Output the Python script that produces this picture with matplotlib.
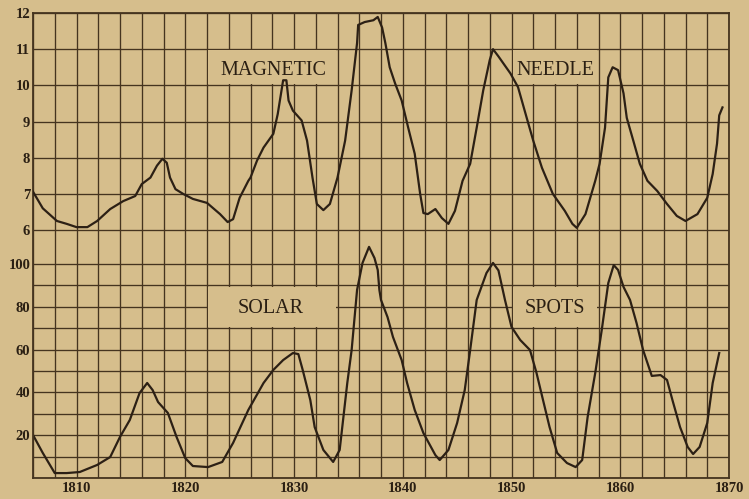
import matplotlib
matplotlib.use("Agg")
import matplotlib.pyplot as plt
from matplotlib.patches import Rectangle

# ---------------- data ----------------
mag_years = [1806.0, 1806.9, 1808.2, 1809.1, 1810.0, 1811.0, 1811.9, 1813.1, 1814.3, 1815.4,
             1816.0, 1816.8, 1817.4, 1817.9, 1818.3, 1818.6, 1819.1, 1819.8, 1820.7, 1822.0,
             1823.2, 1823.9, 1824.4, 1825.0, 1825.8, 1826.0, 1826.6, 1827.2, 1828.1, 1828.5,
             1828.9, 1829.0, 1829.3, 1829.5, 1829.9, 1830.7, 1831.2, 1831.7, 1832.1, 1832.7,
             1833.3, 1834.0, 1834.7, 1835.3, 1835.8, 1835.9, 1836.5, 1837.3, 1837.7, 1838.1,
             1838.4, 1838.8, 1839.3, 1839.9, 1840.5, 1841.1, 1841.6, 1841.9, 1842.3, 1843.0,
             1843.6, 1844.2, 1844.8, 1845.5, 1846.2, 1846.8, 1847.4, 1848.0, 1848.3, 1848.8,
             1849.9, 1850.6, 1851.4, 1852.0, 1852.8, 1853.8, 1854.9, 1855.6, 1856.0, 1856.8,
             1857.7, 1858.1, 1858.6, 1858.9, 1859.3, 1859.8, 1860.3, 1860.6, 1861.2, 1861.8,
             1862.5, 1863.4, 1864.3, 1865.2, 1866.0, 1867.1, 1868.0, 1868.5, 1868.9, 1869.1,
             1869.4]
mag_values = [7.06, 6.60, 6.25, 6.17, 6.08, 6.08, 6.25, 6.58, 6.80, 6.94,
              7.27, 7.45, 7.78, 7.97, 7.86, 7.45, 7.13, 7.00, 6.86, 6.75,
              6.44, 6.22, 6.30, 6.89, 7.36, 7.45, 7.92, 8.28, 8.66, 9.20,
              9.95, 10.14, 10.14, 9.58, 9.30, 9.03, 8.47, 7.45, 6.72, 6.55,
              6.72, 7.45, 8.47, 9.86, 11.17, 11.67, 11.75, 11.80, 11.89, 11.60,
              11.17, 10.50, 10.05, 9.58, 8.83, 8.11, 7.00, 6.47, 6.44, 6.58,
              6.33, 6.17, 6.53, 7.36, 7.83, 8.83, 9.86, 10.70, 11.00, 10.80,
              10.33, 9.95, 9.10, 8.47, 7.72, 7.00, 6.53, 6.17, 6.06, 6.44,
              7.36, 7.83, 8.83, 10.22, 10.50, 10.42, 9.78, 9.10, 8.47, 7.83,
              7.36, 7.08, 6.72, 6.39, 6.25, 6.44, 6.89, 7.55, 8.39, 9.17,
              9.39]

spot_years = [1806.0, 1806.9, 1808.0, 1809.1, 1810.3, 1811.9, 1813.1, 1814.0, 1814.9, 1815.8,
              1816.5, 1817.0, 1817.5, 1818.4, 1819.2, 1820.0, 1820.7, 1822.1, 1823.4, 1824.4,
              1825.8, 1827.2, 1828.1, 1829.0, 1829.9, 1830.4, 1830.8, 1831.5, 1831.9, 1832.7,
              1833.6, 1834.2, 1834.9, 1835.3, 1835.8, 1836.3, 1836.9, 1837.4, 1837.7, 1837.85,
              1838.0, 1838.6, 1839.1, 1839.9, 1840.4, 1841.1, 1841.9, 1843.0, 1843.4, 1844.2,
              1845.0, 1845.7, 1846.2, 1846.8, 1847.7, 1848.3, 1848.8, 1849.4, 1850.0, 1850.8,
              1851.7, 1852.3, 1852.9, 1853.5, 1854.2, 1855.1, 1855.9, 1856.5, 1857.0, 1857.7,
              1858.3, 1858.9, 1859.4, 1859.8, 1860.3, 1860.9, 1861.5, 1862.1, 1862.9, 1863.7,
              1864.3, 1864.8, 1865.5, 1866.2, 1866.7, 1867.3, 1868.0, 1868.5, 1869.1]
spot_values = [20.1, 11.7, 2.3, 2.3, 2.8, 6.1, 9.8, 19.2, 27.1, 39.7,
               44.4, 41.1, 35.5, 30.4, 19.2, 9.3, 5.6, 5.1, 7.5, 16.4,
               31.8, 44.4, 50.5, 55.1, 58.4, 57.9, 50.5, 36.4, 23.8, 13.1,
               7.5, 13.1, 44.4, 59.8, 87.9, 100.5, 108.0, 102.8, 97.2, 87.9,
               83.2, 75.2, 65.9, 55.1, 44.4, 31.8, 21.0, 10.7, 8.4, 13.1,
               25.7, 41.1, 59.8, 83.2, 95.8, 100.5, 97.0, 83.2, 70.6, 64.5,
               59.8, 49.1, 36.4, 23.8, 11.7, 7.0, 5.1, 8.4, 28.5, 49.1,
               69.2, 91.1, 99.5, 97.2, 89.3, 83.2, 72.4, 59.8, 47.7, 48.1,
               45.8, 36.4, 23.8, 14.5, 11.2, 14.5, 25.7, 44.4, 58.4]

x_labels = [1810, 1820, 1830, 1840, 1850, 1860, 1870]
mag_ticks = [6, 7, 8, 9, 10, 11, 12]
spot_ticks = [20, 40, 60, 80, 100]

# ---------------- style ----------------
BG = "#D6BE8C"
INK = "#45341f"
TXT = "#2a1f13"
CURVE = "#2c2015"
SERIF = ["Liberation Serif", "DejaVu Serif"]

fig = plt.figure(figsize=(7.49, 4.99), dpi=100)
fig.patch.set_facecolor(BG)
pos = [33 / 749, 21 / 499, 696 / 749, 465 / 499]

# lower axes: sunspots (0 at bottom, 100 at y=264px)
ax = fig.add_axes(pos)
ax.set_facecolor(BG)
ax.set_xlim(1806, 1870)
ax.set_ylim(0, 465 / 2.14)
ax.set_xticks(x_labels)
ax.set_xticks(list(range(1806, 1871, 2)), minor=True)
ax.set_xticklabels([str(v) for v in x_labels], fontfamily=SERIF, fontsize=10.5,
                   fontweight="bold", color=TXT)
ax.set_yticks(spot_ticks)
ax.set_yticks([0, 10, 30, 50, 70, 90], minor=True)
ax.set_yticklabels([str(v) for v in spot_ticks], fontfamily=SERIF, fontsize=10.5,
                   fontweight="bold", color=TXT)
ax.tick_params(which="both", length=0, pad=2)
ax.tick_params(axis="x", pad=3)
ax.set_axisbelow(True)
ax.grid(True, which="both", axis="x", color=INK, lw=0.95)
ax.grid(True, which="both", axis="y", color=INK, lw=0.95)
for s in ax.spines.values():
    s.set_color(INK)
    s.set_linewidth(1.3)

# SOLAR / SPOTS label boxes
for x0, x1, label, xc in [(1822.1, 1833.9, "SOLAR", 1827.9), (1850.1, 1857.9, "SPOTS", 1854.0)]:
    ax.add_patch(Rectangle((x0, 70.6), x1 - x0, 18.8, facecolor=BG, edgecolor="none", zorder=1))
    ax.text(xc, 79.0, label, ha="center", va="center", fontfamily=SERIF, fontsize=14.5,
            color=TXT, zorder=3)

ax.plot(spot_years, spot_values, color=CURVE, lw=1.6, solid_joinstyle="round", zorder=2)

# upper axes: magnetic needle (6 at y=230px, 12 at top)
ax2 = fig.add_axes(pos)
ax2.patch.set_visible(False)
ax2.set_xlim(1806, 1870)
ax2.set_ylim(12 - 465 / 36.17, 12)
ax2.set_xticks([])
ax2.set_yticks(mag_ticks)
ax2.set_yticklabels([str(v) for v in mag_ticks], fontfamily=SERIF, fontsize=10.5,
                    fontweight="bold", color=TXT)
ax2.tick_params(length=0, pad=2)
ax2.set_axisbelow(True)
ax2.grid(True, axis="y", color=INK, lw=0.95)
for s in ax2.spines.values():
    s.set_visible(False)

for x0, x1, label, xc in [(1822.1, 1833.9, "MAGNETIC", 1828.1), (1850.1, 1857.9, "NEEDLE", 1854.0)]:
    ax2.add_patch(Rectangle((x0, 10.03), x1 - x0, 0.94, facecolor=BG, edgecolor="none", zorder=1))
    ax2.text(xc, 10.42, label, ha="center", va="center", fontfamily=SERIF, fontsize=14.5,
             color=TXT, zorder=3)

ax2.plot(mag_years, mag_values, color=CURVE, lw=1.6, solid_joinstyle="round", zorder=2)

fig.savefig("out.png", dpi=100, facecolor=BG)
